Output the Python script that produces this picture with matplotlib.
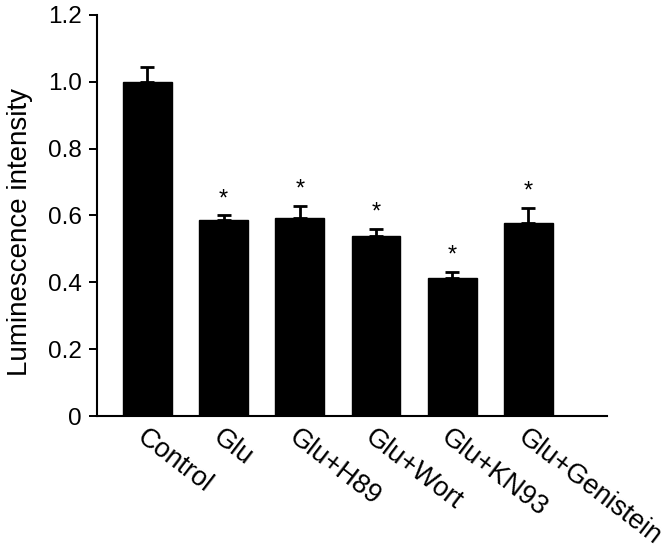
import numpy as np
import matplotlib
matplotlib.use("Agg")
from matplotlib import pyplot as plt
from matplotlib.transforms import ScaledTranslation

plt.rcParams['font.family'] = ['Liberation Sans', 'DejaVu Sans']

groups = ['Control', 'Glu', 'Glu+H89', 'Glu+Wort', 'Glu+KN93', 'Glu+Genistein']
means = [1.00, 0.586, 0.593, 0.538, 0.413, 0.577]
errors = [0.045, 0.014, 0.035, 0.023, 0.017, 0.046]
stars = ['', '*', '*', '*', '*', '*']

fig = plt.figure(figsize=(6.71, 5.59), dpi=100)
ax = fig.add_axes([0.1446, 0.2558, 0.76, 0.7174])

x = np.arange(len(groups))
zeros = [0] * len(groups)
ax.bar(x, means, width=0.64, color='black', edgecolor='black', zorder=2)
ax.errorbar(x, means, yerr=[zeros, errors], fmt='none', ecolor='black',
            elinewidth=2, capsize=4.8, capthick=2, zorder=3)

# significance marks above the error bars
for xi, m, e, s in zip(x, means, errors, stars):
    if s:
        ax.annotate(s, (xi, m + e), xytext=(0, 7.5), textcoords='offset points',
                    ha='center', va='baseline', fontsize=17)

ax.set_xlim(-0.66, 6.03)
ax.set_ylim(0, 1.2)
ax.set_yticks([0, 0.2, 0.4, 0.6, 0.8, 1.0, 1.2])
ax.set_yticklabels(['0', '0.2', '0.4', '0.6', '0.8', '1.0', '1.2'])
ax.set_xticks(x)
ax.set_xticklabels(groups, rotation=-37.5, ha='left', va='top',
                   rotation_mode='anchor', fontsize=19.5)

# nudge x labels left so they start just under the bar
offset = ScaledTranslation(-15 / 100, 0, fig.dpi_scale_trans)
for lbl in ax.get_xticklabels():
    lbl.set_transform(lbl.get_transform() + offset)

ax.tick_params(axis='x', length=0, pad=6)
ax.tick_params(axis='y', length=6, width=1.4, pad=5, labelsize=17.5)
ax.set_ylabel('Luminescence intensity', fontsize=20)
ax.yaxis.set_label_coords(-0.126, 0.46)

for side in ['top', 'right']:
    ax.spines[side].set_visible(False)
for side in ['left', 'bottom']:
    ax.spines[side].set_linewidth(1.5)

fig.savefig('out.png', dpi=100)
